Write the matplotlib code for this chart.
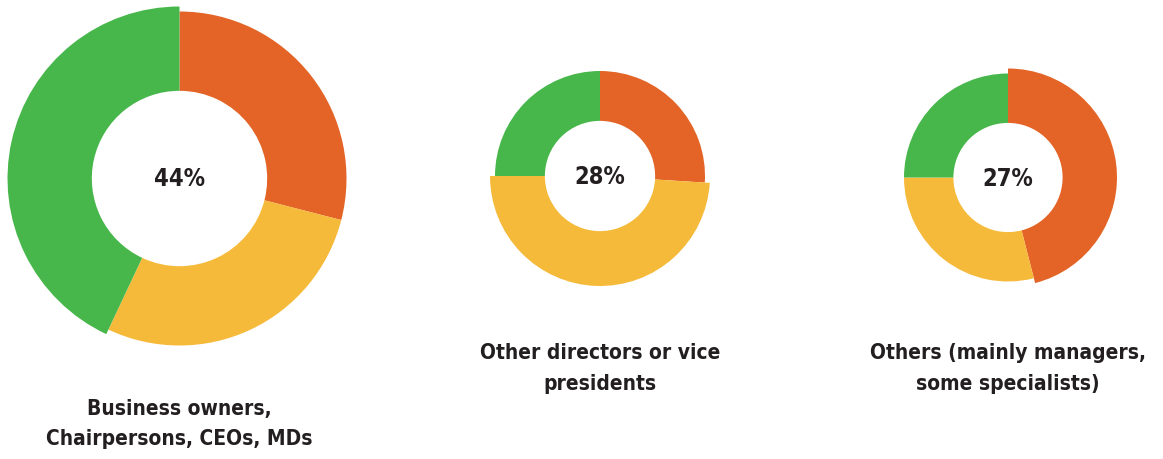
import matplotlib
matplotlib.use('Agg')
import matplotlib.pyplot as plt

# respondent groups and their share of the sample
groups = ['Business owners,\nChairpersons, CEOs, MDs',
          'Other directors or vice\npresidents',
          'Others (mainly managers,\nsome specialists)']
group_share = [44, 28, 27]

# answer split inside each group (orange, yellow, green)
orange = [29, 26, 46]
yellow = [28, 49, 29]
green = [43, 25, 25]

colors = ['#E36426', '#F6BA3B', '#48B74B']

# layout in pixels
centers = [(179.5, 280.5), (600, 283), (1008, 281.5)]
radii = [167, 105, 104]
hole = 0.525
bump = 5
label_y = [36, 91.5, 91.5]

plt.rcParams['font.family'] = ['DejaVu Sans']
plt.rcParams['font.stretch'] = 'condensed'

fig = plt.figure(figsize=(11.63, 4.6), dpi=100)
ax = fig.add_axes([0, 0, 1, 1])

for i in range(3):
    vals = [orange[i], yellow[i], green[i]]
    r = radii[i]
    wedges, _ = ax.pie(vals, colors=colors, startangle=90, counterclock=False,
                       center=centers[i], radius=r,
                       wedgeprops=dict(width=r * (1 - hole), linewidth=0))
    # the biggest slice sticks out a little
    k = vals.index(max(vals))
    wedges[k].set_radius(r + bump)
    wedges[k].set_width(r + bump - r * hole)

    ax.text(centers[i][0], centers[i][1], '%d%%' % group_share[i],
            ha='center', va='center', fontsize=17, fontweight='bold',
            fontstretch='condensed', color='#231F20')
    ax.text(centers[i][0], label_y[i], groups[i], ha='center', va='center',
            fontsize=15, fontweight='bold', fontstretch='condensed',
            color='#231F20', linespacing=1.66)

ax.set_xlim(0, 1163)
ax.set_ylim(0, 460)
ax.set_aspect('equal')
ax.axis('off')

fig.savefig('out.png', dpi=100)
